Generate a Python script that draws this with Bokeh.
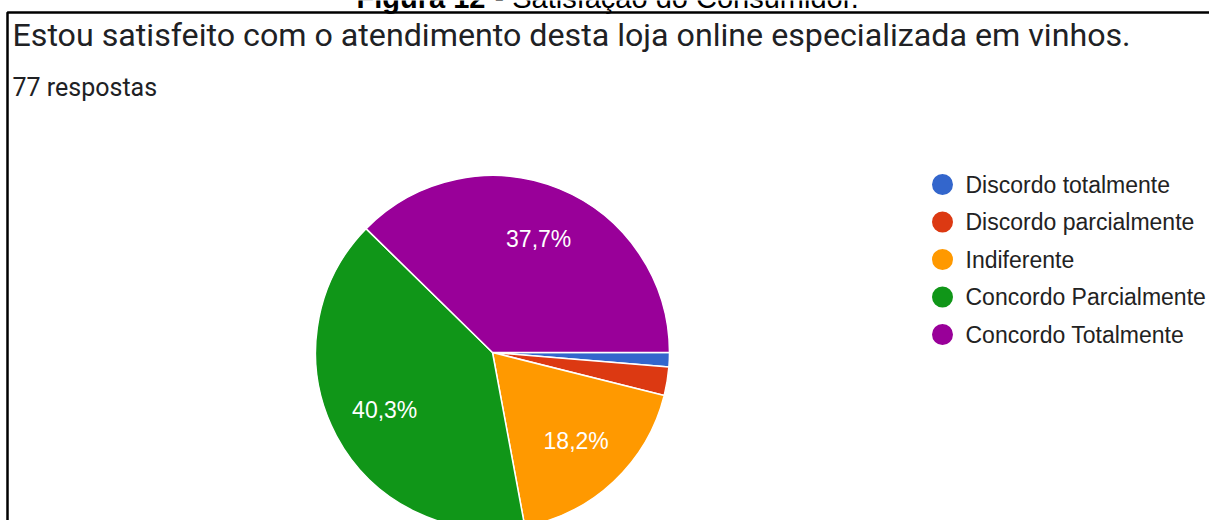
import math
from bokeh.plotting import figure
from bokeh.models import ColumnDataSource, Range1d
from bokeh.core.properties import value
from bokeh.embed import file_html
from bokeh.resources import INLINE

# ---- data ----
categories = ["Discordo totalmente", "Discordo parcialmente", "Indiferente",
              "Concordo Parcialmente", "Concordo Totalmente"]
counts = [1, 2, 14, 31, 29]
colors = ["#3366cc", "#dc3912", "#ff9900", "#109618", "#990099"]
question = "Estou satisfeito com o atendimento desta loja online especializada em vinhos."
responses_label = "77 respostas"
fig_caption_bold = "Figura 12"
fig_caption_rest = "- Satisfação do Consumidor."

# ---- layout (pixel coordinates from the top-left, y flipped) ----
W, H = 1209, 520
def Y(py):
    return H - py

p = figure(width=W, height=H, output_backend="svg", toolbar_location=None,
           x_range=Range1d(0, W), y_range=Range1d(0, H),
           min_border=0, outline_line_color=None, background_fill_color="white")
p.axis.visible = False
p.grid.visible = False

# caption (mostly cut off at the top, as in the reference)
p.text(x=[485], y=[Y(-3)], text=[fig_caption_bold], text_align="right", text_baseline="middle",
       text_font=value("Liberation Sans"), text_font_style="bold", text_font_size="29px", text_color="#000000")
p.text(x=[494], y=[Y(-3)], text=[fig_caption_rest], text_align="left", text_baseline="middle",
       text_font=value("Liberation Sans"), text_font_size="29px", text_color="#000000")

# frame of the form card
p.quad(left=[7], right=[1240], top=[Y(12)], bottom=[-20], fill_color=None,
       line_color="#000000", line_width=2.5)

# question and response count
p.text(x=[12], y=[Y(34)], text=[question], text_baseline="middle",
       text_font=value("Roboto"), text_font_size="32.2px", text_color="#202124")
p.text(x=[12], y=[Y(87)], text=[responses_label], text_baseline="middle",
       text_font=value("Roboto"), text_font_size="25px", text_color="#202124")

# pie
total = sum(counts)
cx, cy, r = 492, Y(352), 177
starts, ends, lx, ly, labels = [], [], [], [], []
cum = 0
for c in counts:
    a0 = 2 * math.pi * cum / total
    cum += c
    a1 = 2 * math.pi * cum / total
    # clockwise from 3 o'clock
    starts.append(-a1)
    ends.append(-a0)
    mid = -(a0 + a1) / 2
    lx.append(cx + 0.69 * r * math.cos(mid))
    ly.append(cy + 0.69 * r * math.sin(mid))
    pct = 100 * c / total
    labels.append(f"{pct:.1f}%".replace(".", ",") if pct >= 5 else "")

src = ColumnDataSource(dict(start=starts, end=ends, color=colors, lx=lx, ly=ly, label=labels))
p.wedge(x=cx, y=cy, radius=r, start_angle="start", end_angle="end", direction="anticlock",
        fill_color="color", line_color="white", line_width=1.5, source=src)
p.text(x="lx", y="ly", text="label", source=src, text_align="center", text_baseline="middle",
       text_font=value("Liberation Sans"), text_font_size="23px", text_color="white")

# legend
leg_y = [Y(184 + 37.5 * i) for i in range(len(categories))]
leg_src = ColumnDataSource(dict(y=leg_y, color=colors, name=categories))
p.scatter(x=942, y="y", size=21, marker="circle", fill_color="color", line_color=None, source=leg_src)
p.text(x=965, y="y", text="name", source=leg_src, text_baseline="middle",
       text_font=value("Liberation Sans"), text_font_size="23px", text_color="#222222")

open("out.html", "w").write(file_html(p, INLINE))
